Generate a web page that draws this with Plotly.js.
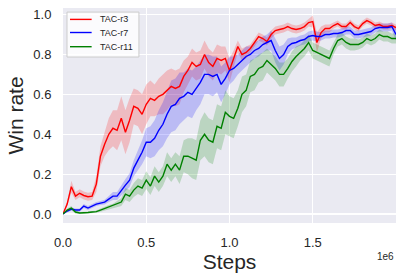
<!DOCTYPE html>
<html>
<head>
<meta charset="utf-8">
<script src="https://cdn.plot.ly/plotly-3.0.1.min.js"></script>
<style>
html,body{margin:0;padding:0;background:#fff;}
#chart{width:403px;height:279px;}
</style>
</head>
<body>
<div id="chart"></div>
<script>
// Steps in units of 1e6
const steps = [0,0.025,0.05,0.075,0.1,0.125,0.15,0.175,0.2,0.225,0.25,0.275,0.3,0.325,0.35,0.375,0.4,0.425,0.45,0.475,
0.5,0.525,0.55,0.575,0.6,0.625,0.65,0.675,0.7,0.725,0.75,0.775,0.8,0.825,0.85,0.875,0.9,0.925,0.95,0.975,
1.0,1.025,1.05,1.075,1.1,1.125,1.15,1.175,1.2,1.225,1.25,1.275,1.3,1.325,1.35,1.375,1.4,1.425,1.45,1.475,
1.5,1.525,1.55,1.575,1.6,1.625,1.65,1.675,1.7,1.725,1.75,1.775,1.8,1.825,1.85,1.875,1.9,1.925,1.95,1.975,2.0];

const seriesNames = ["TAC-r3","TAC-r7","TAC-r11"];

const r3 = [0.0,0.05,0.137,0.09,0.104,0.093,0.087,0.09,0.15,0.29,0.35,
0.40,0.43,0.42,0.48,0.41,0.47,0.54,0.53,0.50,0.55,
0.58,0.57,0.59,0.60,0.62,0.64,0.63,0.64,0.69,0.72,
0.76,0.74,0.75,0.80,0.76,0.74,0.78,0.77,0.78,0.72,
0.78,0.84,0.80,0.81,0.83,0.86,0.89,0.88,0.865,0.90,
0.92,0.925,0.93,0.94,0.93,0.925,0.93,0.94,0.96,0.965,
0.86,0.91,0.93,0.93,0.945,0.955,0.94,0.94,0.96,0.94,
0.93,0.955,0.97,0.96,0.945,0.95,0.94,0.94,0.945,0.935];

const r7 = [0.0,0.015,0.025,0.02,0.02,0.04,0.03,0.04,0.05,0.055,0.06,
0.075,0.09,0.09,0.12,0.145,0.17,0.23,0.27,0.31,0.36,
0.36,0.38,0.42,0.45,0.50,0.54,0.55,0.58,0.59,0.61,
0.60,0.63,0.66,0.70,0.70,0.69,0.70,0.65,0.68,0.72,
0.73,0.75,0.77,0.79,0.80,0.82,0.83,0.85,0.86,0.87,
0.82,0.78,0.80,0.84,0.855,0.86,0.87,0.875,0.89,0.895,
0.89,0.89,0.90,0.90,0.905,0.905,0.91,0.92,0.92,0.90,
0.90,0.905,0.91,0.915,0.93,0.935,0.935,0.935,0.94,0.90];

const r11 = [0.0,0.02,0.03,0.01,0.005,0.005,0.008,0.01,0.012,0.02,0.028,
0.035,0.04,0.05,0.06,0.10,0.09,0.12,0.14,0.13,0.17,
0.14,0.19,0.16,0.19,0.25,0.22,0.25,0.22,0.29,0.29,
0.28,0.27,0.37,0.40,0.37,0.36,0.44,0.43,0.51,0.49,
0.48,0.53,0.60,0.62,0.69,0.70,0.73,0.74,0.77,0.75,
0.73,0.70,0.70,0.73,0.765,0.79,0.81,0.83,0.86,0.82,
0.81,0.80,0.79,0.78,0.83,0.87,0.88,0.86,0.85,0.85,
0.85,0.86,0.88,0.87,0.88,0.90,0.89,0.89,0.88,0.88];

// half-width of the shaded band
const r3Band = [0,0.01,0.03,0.02,0.02,0.02,0.02,0.02,0.04,0.05,0.06,
0.08,0.09,0.10,0.11,0.11,0.11,0.09,0.09,0.10,0.10,
0.09,0.08,0.09,0.10,0.10,0.09,0.09,0.09,0.08,0.07,
0.07,0.07,0.07,0.07,0.07,0.07,0.07,0.07,0.06,0.06,
0.04,0.03,0.03,0.03,0.02,0.02,0.02,0.02,0.02,0.02,
0.02,0.02,0.02,0.02,0.02,0.02,0.02,0.02,0.02,0.03,
0.05,0.03,0.02,0.02,0.015,0.015,0.015,0.015,0.015,0.015,
0.015,0.015,0.015,0.015,0.015,0.015,0.015,0.015,0.015,0.015];

const r7Band = [0,0.005,0.008,0.008,0.008,0.01,0.01,0.01,0.01,0.01,0.012,
0.015,0.02,0.02,0.025,0.03,0.035,0.04,0.05,0.06,0.07,
0.08,0.09,0.10,0.11,0.12,0.13,0.13,0.13,0.12,0.12,
0.12,0.11,0.11,0.10,0.10,0.10,0.09,0.09,0.08,0.07,
0.06,0.05,0.05,0.05,0.04,0.04,0.04,0.04,0.04,0.05,
0.06,0.06,0.05,0.04,0.03,0.025,0.025,0.025,0.025,0.025,
0.025,0.02,0.02,0.02,0.02,0.02,0.02,0.02,0.02,0.02,
0.02,0.02,0.02,0.02,0.02,0.02,0.02,0.02,0.02,0.03];

const r11Band = [0,0.008,0.01,0.008,0.005,0.005,0.005,0.005,0.006,0.008,0.01,
0.01,0.012,0.015,0.02,0.03,0.03,0.035,0.04,0.04,0.045,
0.045,0.05,0.05,0.05,0.06,0.06,0.06,0.07,0.08,0.09,
0.10,0.10,0.10,0.11,0.11,0.11,0.11,0.11,0.11,0.10,
0.10,0.09,0.09,0.08,0.08,0.08,0.07,0.07,0.06,0.06,
0.06,0.06,0.06,0.05,0.05,0.05,0.04,0.04,0.04,0.04,
0.04,0.04,0.04,0.04,0.03,0.03,0.03,0.03,0.03,0.03,
0.025,0.025,0.025,0.025,0.025,0.025,0.025,0.025,0.025,0.025];

const xTickVals = [0,0.5,1.0,1.5];
const xTickText = ["0.0","0.5","1.0","1.5"];
const yTickVals = [0,0.2,0.4,0.6,0.8,1.0];
const yTickText = ["0.0","0.2","0.4","0.6","0.8","1.0"];

const lineColors = ["#ff0000","#0000ff","#008000"];
const fillColors = ["rgba(255,0,0,0.2)","rgba(0,0,255,0.2)","rgba(0,128,0,0.2)"];
const allVals = [r3, r7, r11];
const allBands = [r3Band, r7Band, r11Band];

const traces = [];
for (let s = 0; s < 3; s++) {
  const v = allVals[s], b = allBands[s];
  traces.push({x: steps, y: v.map((d,i)=>d+b[i]), mode:'lines', line:{width:0, color:lineColors[s]},
    showlegend:false, hoverinfo:'skip'});
  traces.push({x: steps, y: v.map((d,i)=>d-b[i]), mode:'lines', line:{width:0, color:lineColors[s]},
    fill:'tonexty', fillcolor: fillColors[s], showlegend:false, hoverinfo:'skip'});
}
for (let s = 0; s < 3; s++) {
  traces.push({x: steps, y: allVals[s], mode:'lines', name: seriesNames[s],
    line:{width:1.4, color:lineColors[s]}, showlegend:false});
}

const font = "Liberation Sans, Arial, sans-serif";

// legend box drawn as shapes + annotations (matplotlib-style compact legend)
const legBox = {x0:0.012, x1:0.228, y0:0.772, y1:0.981};
const legRowY = [0.947, 0.886, 0.820];
const shapes = [{type:'rect', xref:'paper', yref:'paper', x0:legBox.x0, x1:legBox.x1, y0:legBox.y0, y1:legBox.y1,
  fillcolor:'rgba(255,255,255,0.8)', line:{color:'#cccccc', width:1}}];
const annotations = [];
for (let s = 0; s < 3; s++) {
  shapes.push({type:'line', xref:'paper', yref:'paper', x0:0.021, x1:0.086, y0:legRowY[s], y1:legRowY[s],
    line:{color:lineColors[s], width:1.4}});
  annotations.push({text:seriesNames[s], xref:'paper', yref:'paper', x:0.106, y:legRowY[s],
    xanchor:'left', yanchor:'middle', showarrow:false, font:{size:9, family:font, color:'#262626'}});
}
annotations.push({
  text:'1e6', xref:'paper', yref:'paper', x:1.0, y:-0.12, xanchor:'right', yanchor:'top',
  showarrow:false, font:{size:10, family:font, color:'#262626'}
});

const layout = {
  width: 403, height: 279,
  margin: {l:63, r:7, t:8, b:56, pad:0},
  paper_bgcolor: '#ffffff',
  plot_bgcolor: '#EAEAF2',
  font: {family: font, color:'#262626'},
  showlegend: false,
  xaxis: {
    range:[0,2.0], tickvals:xTickVals, ticktext:xTickText,
    showgrid:true, gridcolor:'#ffffff', gridwidth:1.2, zeroline:false, showline:false,
    ticks:'outside', ticklen:7, tickcolor:'rgba(0,0,0,0)',
    tickfont:{size:13, family:font, color:'#262626'},
    title:{text:'Steps', font:{size:21, family:font, color:'#262626'}, standoff:1},
    automargin:false
  },
  yaxis: {
    range:[-0.045,1.033], tickvals:yTickVals, ticktext:yTickText,
    showgrid:true, gridcolor:'#ffffff', gridwidth:1.2, zeroline:false, showline:false,
    ticks:'outside', ticklen:8, tickcolor:'rgba(0,0,0,0)',
    tickfont:{size:13, family:font, color:'#262626'},
    title:{text:'Win rate', font:{size:21, family:font, color:'#262626'}, standoff:3},
    automargin:false
  },
  shapes: shapes,
  annotations: annotations
};

Plotly.newPlot('chart', traces, layout, {staticPlot:true, displayModeBar:false});
</script>
</body>
</html>
